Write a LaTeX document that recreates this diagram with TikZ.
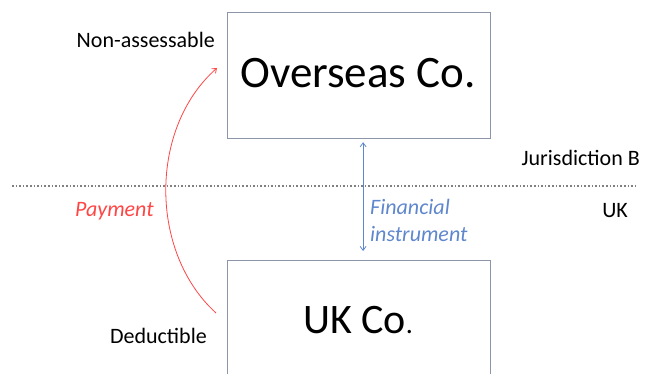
\documentclass[tikz,border=0pt]{standalone}
\usepackage{fontspec}
\setmainfont{Carlito}
\usetikzlibrary{arrows.meta}
\definecolor{boxline}{RGB}{140,150,168}
\definecolor{payred}{RGB}{255,70,70}
\definecolor{instblue}{RGB}{95,135,205}
\begin{document}
\begin{tikzpicture}[x=1pt,y=-1pt,
    company/.style={draw=boxline,line width=1.2pt,minimum width=263pt,inner sep=0pt},
    side/.style={font=\fontsize{22}{24}\selectfont,inner sep=0pt}]
  \useasboundingbox (0,0) rectangle (651,374);
  % jurisdictions
  \draw[gray,dotted,line width=1.6pt] (12,186) -- (637,186);
  \node[side,anchor=east] (jurb) at (640,158) {Jurisdiction B};
  \node[side,anchor=east] (uk) at (628,211) {UK};
  % companies
  \node[company,minimum height=126pt,anchor=north west] (ovs) at (227,12) {};
  \node[font=\fontsize{45}{47}\selectfont] at (358,73) {Overseas Co.};
  \node[company,minimum height=130pt,anchor=north west] (ukco) at (227,260) {};
  \node[font=\fontsize{42}{44}\selectfont] at (358,320) {UK Co{\fontsize{28}{30}\selectfont.}};
  \node[side,anchor=east] (nonass) at (215,40) {Non-assessable};
  \node[side,anchor=east] (deduct) at (207,336) {Deductible};
  % payment
  \coordinate (paystart) at (216,313);
  \coordinate (payend) at (217,68);
  \draw[payred,line width=0.8pt,-{Straight Barb[length=4pt,width=6pt]}] (paystart) .. controls (149,252) and (149,128) .. (payend);
  \node[side,anchor=west,payred,font=\fontsize{22}{24}\selectfont\itshape] (pay) at (75,211) {Payment};
  % instrument
  \draw[instblue,line width=0.8pt,{Straight Barb[length=4pt,width=6pt]}-{Straight Barb[length=4pt,width=6pt]}] ([xshift=4pt,yshift=-3pt]ovs.south) -- ([xshift=4pt,yshift=9pt]ukco.north);
  \node[anchor=west,instblue,align=left,inner sep=0pt,font=\fontsize{22}{27}\selectfont\itshape] (inst) at (370,220) {Financial\\instrument};
\end{tikzpicture}
\end{document}
